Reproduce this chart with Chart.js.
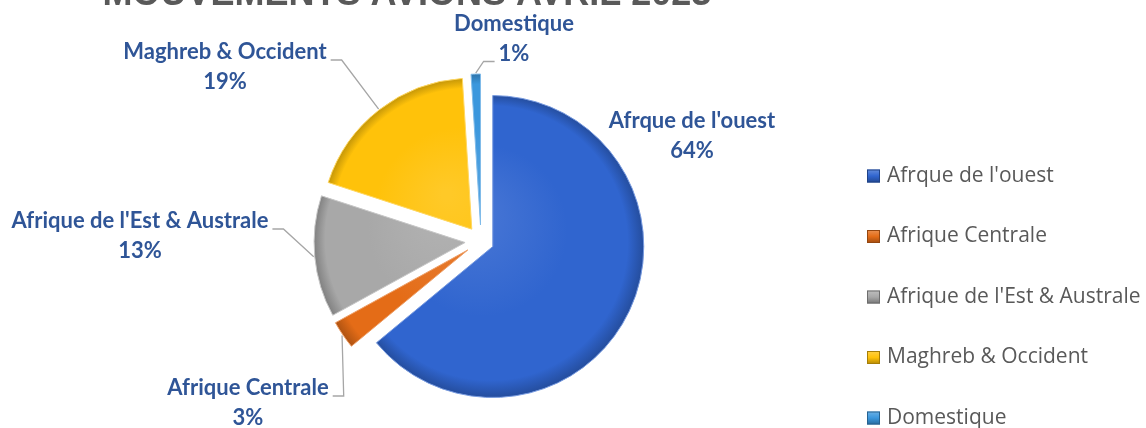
<!DOCTYPE html>
<html>
<head>
<meta charset="utf-8">
<script src="https://cdn.jsdelivr.net/npm/chart.js@4.4.1/dist/chart.umd.min.js"></script>
<style>
html, body { margin: 0; padding: 0; background: #fff; overflow: hidden; }
#wrap { position: relative; width: 1146px; height: 428px; }
</style>
</head>
<body>
<div id="wrap"><canvas id="myChart" width="1146" height="428"></canvas></div>
<script>
var chartTitle = 'MOUVEMENTS AVIONS AVRIL 2023';
var regions = ["Afrque de l'ouest", 'Afrique Centrale', "Afrique de l'Est & Australe", 'Maghreb & Occident', 'Domestique'];
var shares = [64, 3, 13, 19, 1];
var colors = ['#3065cf', '#e46c17', '#a8a8a8', '#ffc20a', '#3b97dd'];

// how far each slice is pulled out, px
var explode = [13, 16, 16, 15, 16];
var pieRadius = 151;
// data label block (centre of first line) relative to pie centre, and which side the leader comes in
var labelSpots = [
    { dx: 211, dy: -120, leader: null },
    { dx: -233, dy: 147, leader: { side: 'right', line: 0 } },
    { dx: -341, dy: -20, leader: { side: 'right', line: 0 } },
    { dx: -256, dy: -189, leader: { side: 'right', line: 0 } },
    { dx: 33, dy: -217, leader: { side: 'left', line: 1 } }
];

var total = shares.reduce(function (a, b) { return a + b; }, 0);

function shade(hex, f) {
    var n = parseInt(hex.slice(1), 16), r = n >> 16, g = (n >> 8) & 255, b = n & 255;
    function m(c) { return Math.round(f < 0 ? c * (1 + f) : c + (255 - c) * f); }
    return 'rgb(' + m(r) + ',' + m(g) + ',' + m(b) + ')';
}

function midAngle(i) {
    var before = 0;
    for (var k = 0; k < i; k++) before += shares[k];
    return -Math.PI / 2 + 2 * Math.PI * (before + shares[i] / 2) / total;
}

function sliceFill(c) {
    var i = c.dataIndex, a = c.chart.chartArea;
    if (!a) return colors[i];
    var mid = midAngle(i);
    var x = (a.left + a.right) / 2 + Math.cos(mid) * explode[i];
    var y = (a.top + a.bottom) / 2 + Math.sin(mid) * explode[i];
    var g = c.chart.ctx.createRadialGradient(x - 25, y - 35, 5, x, y, pieRadius + 1);
    g.addColorStop(0, shade(colors[i], 0.12));
    g.addColorStop(0.55, colors[i]);
    g.addColorStop(0.9, colors[i]);
    g.addColorStop(1, shade(colors[i], -0.25));
    return g;
}

var explodePlugin = {
    id: 'explode',
    afterDatasetUpdate: function (chart, args) {
        args.meta.data.forEach(function (arc, i) {
            var mid = (arc.startAngle + arc.endAngle) / 2;
            arc.x += Math.cos(mid) * explode[i];
            arc.y += Math.sin(mid) * explode[i];
        });
    }
};

var labelPlugin = {
    id: 'sliceLabels',
    afterDatasetsDraw: function (chart) {
        var ctx = chart.ctx, a = chart.chartArea;
        var cx = (a.left + a.right) / 2, cy = (a.top + a.bottom) / 2;
        var lineGap = 29.5;
        ctx.save();
        ctx.font = 'bold 22px Lato';
        ctx.textAlign = 'center';
        ctx.textBaseline = 'middle';
        chart.getDatasetMeta(0).data.forEach(function (arc, i) {
            var spot = labelSpots[i];
            var lines = [regions[i], Math.round(shares[i] / total * 100) + '%'];
            var lx = cx + spot.dx, ly = cy + spot.dy;
            ctx.fillStyle = '#2f5597';
            lines.forEach(function (t, k) { ctx.fillText(t, lx, ly + k * lineGap); });
            if (!spot.leader) return;
            var w = ctx.measureText(lines[spot.leader.line]).width;
            var yb = ly + spot.leader.line * lineGap + 8;
            var dir = spot.leader.side === 'right' ? 1 : -1;
            var endX = lx + dir * (w / 2 + 4);
            var elbowX = endX + dir * 11;
            var mid = (arc.startAngle + arc.endAngle) / 2;
            var sx = arc.x + Math.cos(mid) * (arc.outerRadius + 1);
            var sy = arc.y + Math.sin(mid) * (arc.outerRadius + 1);
            ctx.strokeStyle = '#a6a6a6';
            ctx.lineWidth = 1.3;
            ctx.beginPath();
            ctx.moveTo(sx, sy);
            ctx.lineTo(elbowX, yb);
            ctx.lineTo(endX, yb);
            ctx.stroke();
        });
        ctx.restore();
    }
};

var decorPlugin = {
    id: 'decor',
    afterDraw: function (chart) {
        var ctx = chart.ctx;
        ctx.save();
        // title (cut at the top like the original)
        ctx.font = 'bold 36px "Liberation Sans"';
        ctx.fillStyle = '#595959';
        ctx.textAlign = 'center';
        ctx.textBaseline = 'alphabetic';
        ctx.fillText(chartTitle, 407, 5);
        // legend
        ctx.font = '21px "Open Sans"';
        ctx.textAlign = 'left';
        ctx.textBaseline = 'middle';
        regions.forEach(function (name, i) {
            var y = 176 + i * 60.5;
            var g = ctx.createLinearGradient(0, y - 6.5, 0, y + 6.5);
            g.addColorStop(0, shade(colors[i], 0.25));
            g.addColorStop(0.5, colors[i]);
            g.addColorStop(1, shade(colors[i], -0.3));
            ctx.fillStyle = g;
            ctx.fillRect(867, y - 6.5, 13, 13);
            ctx.strokeStyle = shade(colors[i], -0.35);
            ctx.lineWidth = 1;
            ctx.strokeRect(867.5, y - 6, 12, 12);
            ctx.fillStyle = '#595959';
            ctx.fillText(name, 887, y);
        });
        ctx.restore();
    }
};

function draw() {
    var ctx = document.getElementById('myChart').getContext('2d');
    new Chart(ctx, {
        type: 'pie',
        data: {
            labels: regions,
            datasets: [{
                data: shares,
                backgroundColor: sliceFill,
                borderColor: colors.map(function (c) { return shade(c, 0.35); }),
                borderWidth: 1,
                clip: false
            }]
        },
        options: {
            responsive: false,
            devicePixelRatio: 1,
            animation: false,
            radius: pieRadius,
            layout: { padding: { left: 0, right: 184, top: 54, bottom: 0 } },
            plugins: {
                legend: { display: false },
                tooltip: { enabled: false }
            }
        },
        plugins: [explodePlugin, labelPlugin, decorPlugin]
    });
}

Promise.all([
    document.fonts.load('bold 22px Lato'),
    document.fonts.load('21px "Open Sans"'),
    document.fonts.load('bold 36px "Liberation Sans"')
]).then(draw, draw);
</script>
</body>
</html>
